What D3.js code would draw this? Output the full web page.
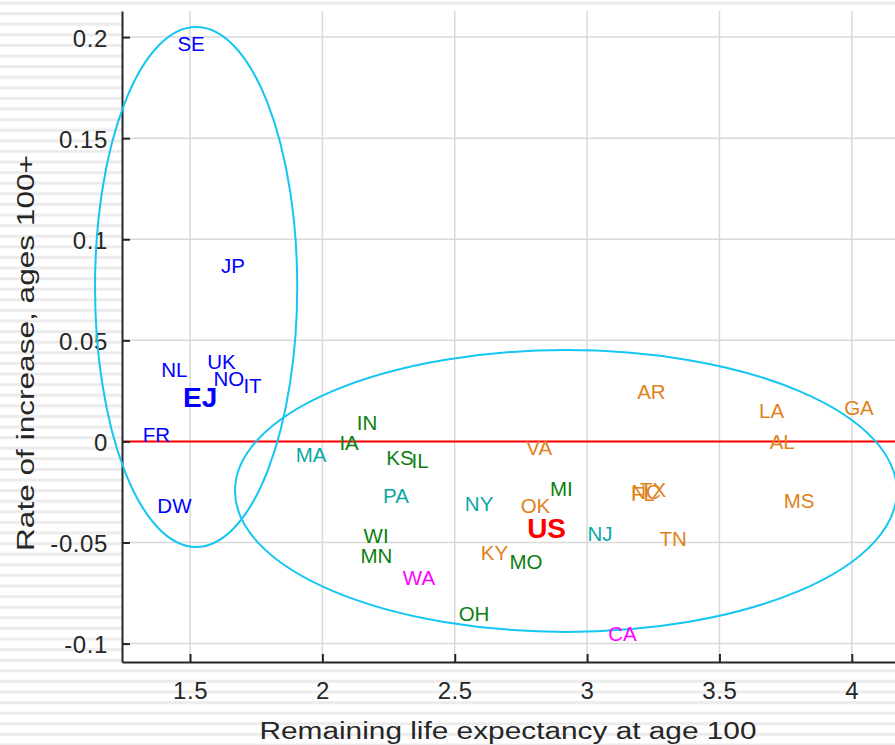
<!DOCTYPE html>
<html>
<head>
<meta charset="utf-8">
<script src="https://cdn.jsdelivr.net/npm/d3@7"></script>
<style>
  html, body { margin: 0; padding: 0; background: #fff; }
  svg { display: block; }
  text { font-family: "Liberation Sans", Arial, Helvetica, sans-serif; }
</style>
</head>
<body>
<svg id="chart" width="895" height="745"></svg>
<script>
// Regions / states: code, remaining life expectancy at 100, rate of increase 100+
const codes = ["SE","JP","NL","UK","NO","IT","EJ","FR","DW",
               "MA","PA","NY","NJ",
               "IN","IA","KS","IL","WI","MN","MI","MO","OH",
               "AR","VA","OK","KY","TN","FL","NC","TX","LA","AL","GA","MS",
               "WA","CA",
               "US"];
const lifeExp = [1.504,1.662,1.441,1.619,1.647,1.736,1.538,1.373,1.441,
                 1.957,2.278,2.592,3.049,
                 2.169,2.101,2.293,2.369,2.203,2.204,2.903,2.769,2.573,
                 3.243,2.819,2.805,2.650,3.325,3.211,3.223,3.249,3.697,3.737,4.027,3.801,
                 2.365,3.134,
                 2.847];
const rateInc = [0.1968,0.0868,0.0356,0.0393,0.0312,0.0277,0.0218,0.0035,-0.0317,
                 -0.0064,-0.0267,-0.0309,-0.0457,
                 0.0094,-0.0007,-0.0079,-0.0094,-0.0465,-0.0564,-0.0232,-0.0596,-0.0853,
                 0.0245,-0.0030,-0.0317,-0.0549,-0.0480,-0.0260,-0.0247,-0.0237,0.0151,-0.0002,0.0168,-0.0292,
                 -0.0673,-0.0950,
                 -0.0428];
const groups = ["intl","intl","intl","intl","intl","intl","ej","intl","intl",
                "ne","ne","ne","ne",
                "mw","mw","mw","mw","mw","mw","mw","mw","mw",
                "south","south","south","south","south","south","south","south","south","south","south","south",
                "west","west",
                "us"];

const groupKeys   = ["intl","ej","ne","mw","south","west","us"];
const groupColors = ["#0000ff","#0000ff","#0aa8a8","#0a8010","#e0821c","#ff00ff","#ff0000"];

// Cluster ellipses: centre (x, y) and semi-axes in data units
const ellCx = [1.523, 2.920];
const ellCy = [0.0764, -0.0245];
const ellRx = [0.382, 1.250];
const ellRy = [0.1286, 0.0697];

const xTicks = [1.5, 2, 2.5, 3, 3.5, 4];
const yTicks = [-0.1, -0.05, 0, 0.05, 0.1, 0.15, 0.2];

const W = 895, H = 745;
const plot = { left: 122, top: 11, bottom: 662, right: 905 };

const svg = d3.select("#chart");

// faint horizontal banding behind the figure
const defs = svg.append("defs");
const pat = defs.append("pattern")
  .attr("id", "bands").attr("patternUnits", "userSpaceOnUse")
  .attr("x", 0).attr("y", 1.5).attr("width", 20).attr("height", 10.6);
pat.append("rect").attr("width", 20).attr("height", 10.6).attr("fill", "#ffffff");
pat.append("rect").attr("y", 0).attr("width", 20).attr("height", 3).attr("fill", "#ececec");
svg.append("rect").attr("width", W).attr("height", H).attr("fill", "url(#bands)");

const x = d3.scaleLinear().domain([1.243, 4.201]).range([plot.left, plot.right]);
const y = d3.scaleLinear().domain([-0.1091, 0.2129]).range([plot.bottom, plot.top]);
const color = d3.scaleOrdinal().domain(groupKeys).range(groupColors);

// plot background
svg.append("rect")
  .attr("x", plot.left).attr("y", plot.top)
  .attr("width", plot.right - plot.left).attr("height", plot.bottom - plot.top)
  .attr("fill", "#fff");

// grid
const grid = svg.append("g").attr("stroke", "#d9d9d9").attr("stroke-width", 1.5);
grid.selectAll("line.gx").data(xTicks).join("line")
  .attr("x1", d => x(d)).attr("x2", d => x(d))
  .attr("y1", plot.top).attr("y2", plot.bottom);
grid.selectAll("line.gy").data(yTicks).join("line")
  .attr("x1", plot.left).attr("x2", plot.right)
  .attr("y1", d => y(d)).attr("y2", d => y(d));

// zero reference line
svg.append("line")
  .attr("x1", plot.left).attr("x2", plot.right)
  .attr("y1", y(0)).attr("y2", y(0))
  .attr("stroke", "#ff0000").attr("stroke-width", 2);

// axes
const axisColor = "#262626";
const xAxis = svg.append("g")
  .attr("transform", `translate(0,${plot.bottom})`)
  .call(d3.axisBottom(x).tickValues(xTicks).tickSizeInner(-8).tickSizeOuter(0)
        .tickPadding(22).tickFormat(d3.format("")));
const yAxis = svg.append("g")
  .attr("transform", `translate(${plot.left},0)`)
  .call(d3.axisLeft(y).tickValues(yTicks).tickSizeInner(-8).tickSizeOuter(0)
        .tickPadding(22).tickFormat(d => d === 0 ? "0" : d3.format("")(+d.toFixed(2)).replace("−", "-")));

[xAxis, yAxis].forEach(g => {
  g.select(".domain").attr("stroke", axisColor).attr("stroke-width", 2);
  g.selectAll(".tick line").attr("stroke", axisColor).attr("stroke-width", 2);
  g.selectAll(".tick text")
    .attr("fill", axisColor)
    .style("font-size", "24px")
    .style("letter-spacing", "0.6px")
    .style("font-family", "'Liberation Sans', Arial, sans-serif");
});
xAxis.selectAll(".tick text").attr("dy", "0.71em").attr("y", 20);
yAxis.selectAll(".tick text").attr("x", -14).attr("dy", "0.38em");

// axis titles
svg.append("text")
  .attr("x", 508).attr("y", 739)
  .attr("text-anchor", "middle")
  .attr("fill", axisColor)
  .attr("textLength", 497).attr("lengthAdjust", "spacingAndGlyphs")
  .style("font-size", "23.5px")
  .text("Remaining life expectancy at age 100");

svg.append("text")
  .attr("transform", "translate(34,353) rotate(-90)")
  .attr("text-anchor", "middle")
  .attr("fill", axisColor)
  .attr("textLength", 396).attr("lengthAdjust", "spacingAndGlyphs")
  .style("font-size", "23.5px")
  .text("Rate of increase, ages 100+");

// cluster ellipses
svg.append("g").selectAll("ellipse").data(d3.range(ellCx.length)).join("ellipse")
  .attr("cx", i => x(ellCx[i]))
  .attr("cy", i => y(ellCy[i]))
  .attr("rx", i => x(ellCx[i] + ellRx[i]) - x(ellCx[i]))
  .attr("ry", i => y(ellCy[i]) - y(ellCy[i] + ellRy[i]))
  .attr("fill", "none")
  .attr("stroke", "#14c6f2")
  .attr("stroke-width", 2);

// region labels
const bold = new Set(["ej", "us"]);
svg.append("g").selectAll("text").data(d3.range(codes.length)).join("text")
  .attr("x", i => x(lifeExp[i]))
  .attr("y", i => y(rateInc[i]))
  .attr("text-anchor", "middle")
  .attr("dy", "0.36em")
  .attr("fill", i => color(groups[i]))
  .style("font-size", i => bold.has(groups[i]) ? "28px" : "20.5px")
  .style("font-weight", i => bold.has(groups[i]) ? "bold" : "normal")
  .text(i => codes[i]);
</script>
</body>
</html>
